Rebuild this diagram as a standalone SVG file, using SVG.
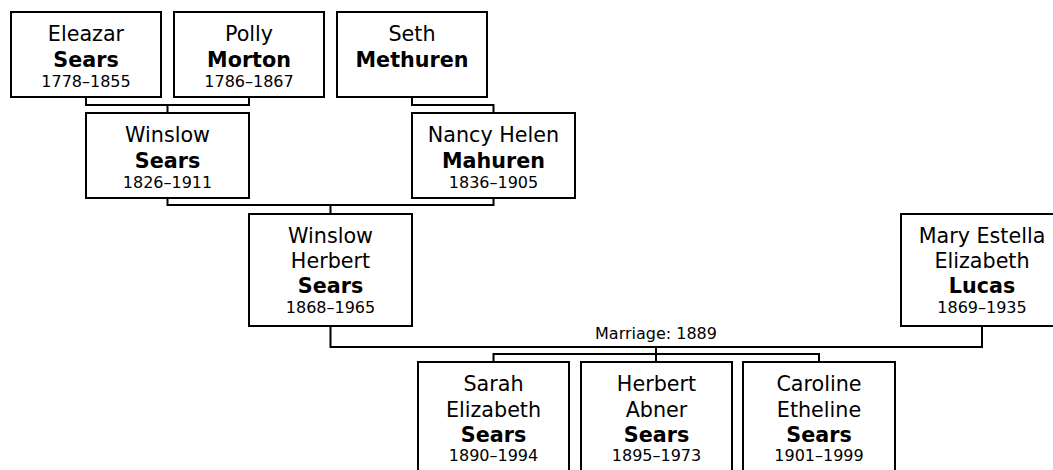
<svg xmlns="http://www.w3.org/2000/svg" width="1053" height="470" viewBox="0 0 1053 470">
<style>
rect.box { fill: #fff; stroke: #000; stroke-width: 2; }
.conn path { fill: none; stroke: #000; stroke-width: 2; }
text { font-family: "DejaVu Sans", Verdana, sans-serif; fill: #000; text-anchor: middle; }
.n { font-size: 20.7px; }
.b { font-size: 20.7px; font-weight: bold; }
.d { font-size: 16px; }
.m { font-size: 16px; }
</style>
<rect width="1053" height="470" fill="#fff"/>
<g class="conn" id="connectors">
  <path d="M86,97 V105 H249 V97 M167.5,105 V113"/>
  <path d="M412,97 V105 H493.5 V113"/>
  <path d="M167.5,198 V205 H493.5 V198 M330.5,205 V214"/>
  <path d="M330.5,326 V347 H982 V326"/>
  <path d="M656,347 V362 M493.5,362 V354 H819 V362"/>
  <text class="m" x="656" y="339">Marriage: 1889</text>
</g>
<g id="eleazar">
  <rect class="box" x="11" y="12" width="150" height="85"/>
  <text class="n" x="86" y="41">Eleazar</text>
  <text class="b" x="86" y="66.5">Sears</text>
  <text class="d" x="86" y="86.5">1778–1855</text>
</g>
<g id="polly">
  <rect class="box" x="174" y="12" width="150" height="85"/>
  <text class="n" x="249" y="41">Polly</text>
  <text class="b" x="249" y="66.5">Morton</text>
  <text class="d" x="249" y="86.5">1786–1867</text>
</g>
<g id="seth">
  <rect class="box" x="337" y="12" width="150" height="85"/>
  <text class="n" x="412" y="41">Seth</text>
  <text class="b" x="412" y="66.5">Methuren</text>
</g>
<g id="winslow">
  <rect class="box" x="86" y="113" width="163" height="85"/>
  <text class="n" x="167.5" y="142">Winslow</text>
  <text class="b" x="167.5" y="167.5">Sears</text>
  <text class="d" x="167.5" y="187.5">1826–1911</text>
</g>
<g id="nancy">
  <rect class="box" x="412" y="113" width="163" height="85"/>
  <text class="n" x="493.5" y="142">Nancy Helen</text>
  <text class="b" x="493.5" y="167.5">Mahuren</text>
  <text class="d" x="493.5" y="187.5">1836–1905</text>
</g>
<g id="winslow-herbert">
  <rect class="box" x="249" y="214" width="163" height="112"/>
  <text class="n" x="330.5" y="243">Winslow</text>
  <text class="n" x="330.5" y="268">Herbert</text>
  <text class="b" x="330.5" y="293">Sears</text>
  <text class="d" x="330.5" y="313">1868–1965</text>
</g>
<g id="mary">
  <rect class="box" x="901" y="214" width="162" height="112"/>
  <text class="n" x="982" y="243">Mary Estella</text>
  <text class="n" x="982" y="268">Elizabeth</text>
  <text class="b" x="982" y="293">Lucas</text>
  <text class="d" x="982" y="313">1869–1935</text>
</g>
<g id="sarah">
  <rect class="box" x="418" y="362" width="151" height="112"/>
  <text class="n" x="493.5" y="391">Sarah</text>
  <text class="n" x="493.5" y="416.5">Elizabeth</text>
  <text class="b" x="493.5" y="442">Sears</text>
  <text class="d" x="493.5" y="461">1890–1994</text>
</g>
<g id="herbert">
  <rect class="box" x="581" y="362" width="151" height="112"/>
  <text class="n" x="656.5" y="391">Herbert</text>
  <text class="n" x="656.5" y="416.5">Abner</text>
  <text class="b" x="656.5" y="442">Sears</text>
  <text class="d" x="656.5" y="461">1895–1973</text>
</g>
<g id="caroline">
  <rect class="box" x="743" y="362" width="152" height="112"/>
  <text class="n" x="819" y="391">Caroline</text>
  <text class="n" x="819" y="416.5">Etheline</text>
  <text class="b" x="819" y="442">Sears</text>
  <text class="d" x="819" y="461">1901–1999</text>
</g>
</svg>
